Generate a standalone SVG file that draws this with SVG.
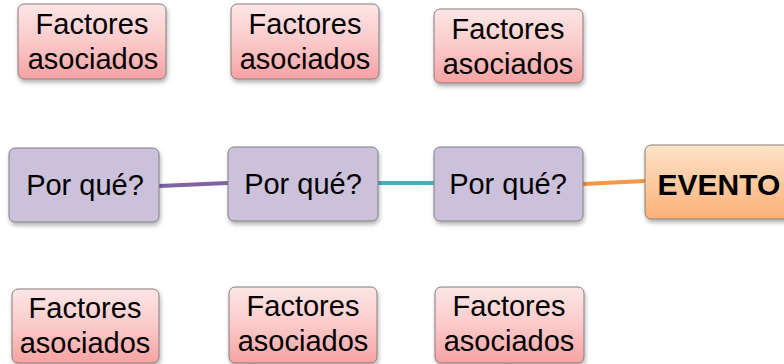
<svg xmlns="http://www.w3.org/2000/svg" width="784" height="364" viewBox="0 0 784 364">
<defs>
<linearGradient id="gPink" x1="0" y1="0" x2="0" y2="1">
<stop offset="0" stop-color="#fde6e6"/>
<stop offset="0.5" stop-color="#fbcaca"/>
<stop offset="1" stop-color="#f6a2a2"/>
</linearGradient>
<linearGradient id="gOrange" x1="0" y1="0" x2="0" y2="1">
<stop offset="0" stop-color="#fde2ca"/>
<stop offset="0.5" stop-color="#fccba0"/>
<stop offset="1" stop-color="#f9b078"/>
</linearGradient>
<filter id="sh" x="-10%" y="-10%" width="130%" height="140%">
<feDropShadow dx="1" dy="3" stdDeviation="2" flood-color="#000" flood-opacity="0.3"/>
</filter>
</defs>
<style>
.f rect{fill:url(#gPink);stroke:#8a7a7a;stroke-width:1;filter:url(#sh)}
.p rect{fill:#ccc1da;stroke:#7f7f7f;stroke-width:1;filter:url(#sh)}
.e rect{fill:url(#gOrange);stroke:#8a7f75;stroke-width:1;filter:url(#sh)}
text{font-family:"Liberation Sans",Arial,sans-serif;fill:#000;text-anchor:middle}
.t{font-size:29px}
.b{font-size:30px;font-weight:bold}
</style>
<rect width="784" height="364" fill="#fff"/>
<g id="connectors" fill="none" stroke-width="4">
<line x1="159" y1="186" x2="228" y2="183" stroke="#8064a2"/>
<line x1="378" y1="183" x2="434" y2="183" stroke="#4bacc6"/>
<line x1="583" y1="184" x2="645" y2="181" stroke="#f79646"/>
</g>
<g id="f1" class="f"><rect x="18" y="4" width="148" height="75" rx="6"/><text class="t" x="92" y="34">Factores</text><text class="t" x="93" y="69">asociados</text></g>
<g id="f2" class="f"><rect x="231" y="4" width="148" height="75" rx="6"/><text class="t" x="305" y="34">Factores</text><text class="t" x="305" y="69">asociados</text></g>
<g id="f3" class="f"><rect x="434" y="9" width="149" height="74" rx="6"/><text class="t" x="508" y="39">Factores</text><text class="t" x="508" y="74">asociados</text></g>
<g id="p1" class="p"><rect x="9" y="148" width="150" height="74" rx="6"/><text class="t" x="85" y="195">Por qué?</text></g>
<g id="p2" class="p"><rect x="228" y="147" width="150" height="74" rx="6"/><text class="t" x="303" y="194">Por qué?</text></g>
<g id="p3" class="p"><rect x="434" y="147" width="149" height="74" rx="6"/><text class="t" x="508" y="194">Por qué?</text></g>
<g id="evento" class="e"><rect x="645" y="145" width="160" height="74" rx="6"/><text class="b" x="719" y="195">EVENTO</text></g>
<g id="f4" class="f"><rect x="12" y="289" width="147" height="74" rx="6"/><text class="t" x="85" y="318">Factores</text><text class="t" x="85" y="353">asociados</text></g>
<g id="f5" class="f"><rect x="229" y="287" width="148" height="76" rx="6"/><text class="t" x="303" y="316">Factores</text><text class="t" x="303" y="351">asociados</text></g>
<g id="f6" class="f"><rect x="435" y="287" width="149" height="76" rx="6"/><text class="t" x="509" y="316">Factores</text><text class="t" x="509" y="351">asociados</text></g>
</svg>
